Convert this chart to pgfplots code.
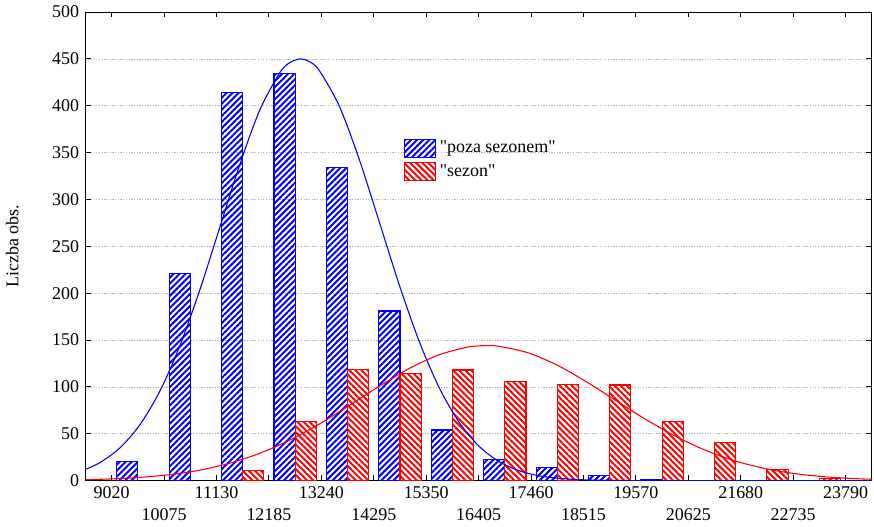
\documentclass[border=0pt]{standalone}
\usepackage{fontspec}
\setmainfont{Liberation Serif}[Ligatures=TeXOff]
\usepackage{pgfplots}
\pgfplotsset{compat=1.18}
\usetikzlibrary{patterns.meta}

\tikzset{
  blueHatch/.style={draw=blue, line width=0.6pt,
    pattern={Lines[angle=45,distance=2.4pt,line width=1.1pt]}, pattern color=blue},
  redHatch/.style={draw=red, line width=0.6pt,
    pattern={Lines[angle=-45,distance=2.4pt,line width=1.1pt]}, pattern color=red},
}

\begin{document}
\begin{tikzpicture}
\begin{axis}[
    scale only axis,
    width=438pt, height=261pt,
    xmin=8492.5, xmax=24317.5,
    ymin=0, ymax=500,
    ytick={0,50,...,500},
    xtick={9020,10075,11130,12185,13240,14295,15350,16405,17460,18515,19570,20625,21680,22735,23790},
    xticklabels={9020,{\phantom{0}\\10075},11130,{\phantom{0}\\12185},13240,{\phantom{0}\\14295},
                 15350,{\phantom{0}\\16405},17460,{\phantom{0}\\18515},19570,{\phantom{0}\\20625},
                 21680,{\phantom{0}\\22735},23790},
    xticklabel style={align=center, anchor=north},
    scaled x ticks=false,
    tick align=inside,
    tick pos=both,
    major tick length=3pt,
    tick style={black, line width=0.5pt},
    axis line style={black, line width=0.6pt},
    ymajorgrids,
    major grid style={gray!60, line width=0.4pt, dash pattern=on 0.7pt off 0.8pt},
    /pgf/number format/assume math mode=true,
    ticklabel style={font=\normalsize},
    ylabel={Liczba obs.},
    ylabel style={at={(axis description cs:-0.093,0.5)}, anchor=center},
    legend style={at={(rel axis cs:0.402,0.737)}, anchor=north west,
      draw=none, fill=none, inner sep=1pt, row sep=1pt,
      cells={anchor=west}},
    legend cell align=left,
    legend image code/.code={\draw[#1] (0pt,-5pt) rectangle (17.5pt,5pt);},
  ]
  % bars: blue = "poza sezonem", red = "sezon"
  \addplot[ybar, bar shift=0pt, bar width=425, blueHatch]
    coordinates {
      (9335,20) (10390,221) (11445,414) (12500,434) (13555,334) (14610,181)
      (15665,54) (16720,23) (17775,14) (18830,5) (19885,1)
    };
  \addlegendentry{"poza sezonem"}
  \addplot[ybar, bar shift=0pt, bar width=425, redHatch]
    coordinates {
      (11870,11) (12925,63) (13980,119) (15035,114) (16090,118) (17145,106)
      (18200,103) (19255,102) (20310,63) (21365,41) (22420,12) (23475,2)
    };
  \addlegendentry{"sezon"}

  % fitted curves
  \addplot[blue, line width=0.6pt, smooth, forget plot]
    coordinates {
      (8492.5,12.0) (8800,19.7) (9200,35.6) (9600,60.5) (10000,96.5) (10400,144.9)
      (10800,204.4) (11200,270.9) (11600,337.5) (12000,395.3) (12400,435.0)
      (12600,445.9) (12818,450) (13000,447.1) (13200,437.4) (13600,399.7)
      (14000,343.2) (14400,277.0) (14800,210.1) (15200,149.8) (15600,100.4)
      (16000,63.2) (16400,37.4) (16800,20.8) (17200,10.9) (17600,5.3)
      (18000,2.5) (18400,1.1) (18800,0.44) (19200,0.17) (20000,0) (24317.5,0)
    };
  \addplot[red, line width=0.6pt, smooth, forget plot]
    coordinates {
      (8492.5,0.96) (9000,1.77) (9600,3.46) (10200,6.41) (10800,11.2) (11400,18.6)
      (12000,29.1) (12600,43.1) (13200,60.4) (13800,80.1) (14400,100.5)
      (15000,119.4) (15600,134.1) (16200,142.6) (16562,144) (16800,143.4)
      (17400,136.4) (18000,122.8) (18600,104.6) (19200,84.3) (19800,64.3)
      (20400,46.4) (21000,31.7) (21600,20.5) (22200,12.5) (22800,7.2)
      (23400,3.95) (24000,2.04) (24317.5,1.41)
    };
\end{axis}
\end{tikzpicture}
\end{document}
